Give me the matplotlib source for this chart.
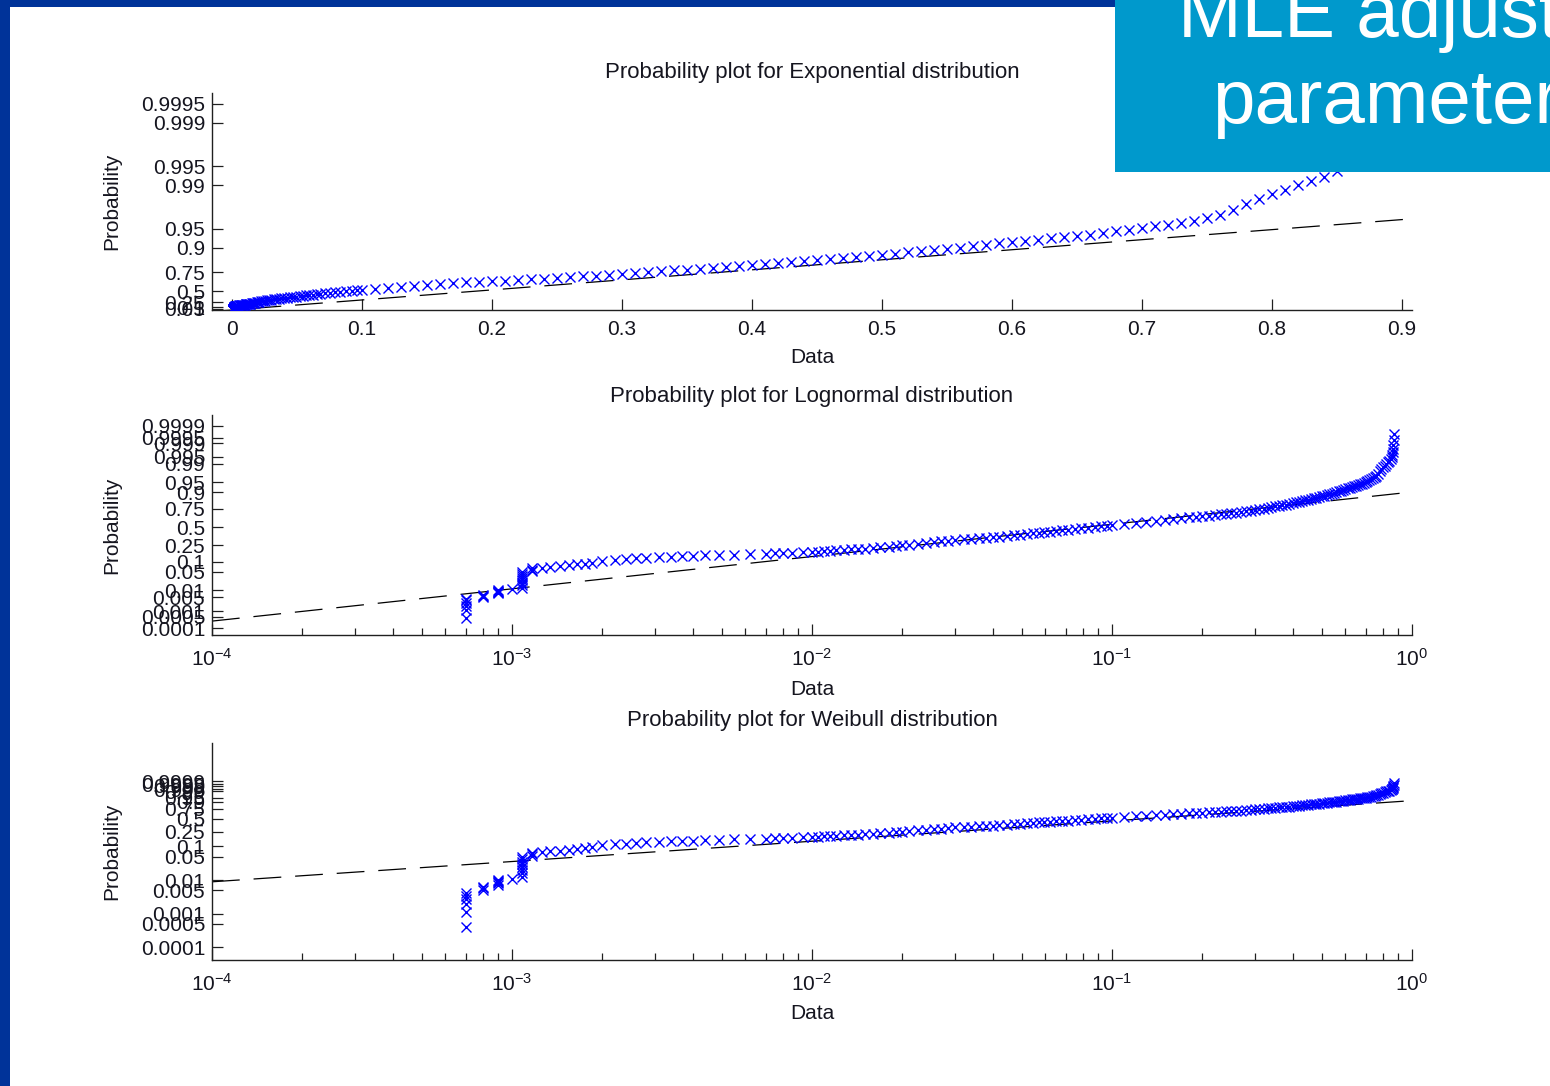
import numpy as np
import matplotlib
matplotlib.use("Agg")
import matplotlib.pyplot as plt
from matplotlib.patches import Rectangle
from matplotlib.ticker import LogLocator, LogFormatterMathtext, NullFormatter

plt.rcParams["font.family"] = ["Liberation Sans", "DejaVu Sans"]
plt.rcParams["mathtext.fontset"] = "custom"
plt.rcParams["mathtext.rm"] = "Liberation Sans"
plt.rcParams["mathtext.default"] = "regular"
plt.rcParams["axes.unicode_minus"] = False
plt.rcParams["lines.scale_dashes"] = False

# sorted sample values and their plotting positions
DATA_X = [
    0.0007, 0.0007, 0.0007, 0.0007, 0.0007, 0.0007,
    0.0008, 0.0008, 0.0008,
    0.0009, 0.0009, 0.0009, 0.0009, 0.0009,
    0.0010,
    0.00108, 0.00108, 0.00108, 0.00108, 0.00108, 0.00108, 0.00108, 0.00108,
    0.00117, 0.00117, 0.00117,
    0.00126, 0.00134, 0.00145, 0.00155, 0.00165, 0.00175, 0.00185,
    0.0020, 0.0022, 0.0024, 0.0026, 0.0028,
    0.0031, 0.0034, 0.0037, 0.0040,
    0.0044, 0.0049, 0.0055, 0.0062,
    0.0070, 0.0075, 0.0080, 0.0086, 0.0093,
    0.010, 0.0105, 0.011, 0.0115, 0.012, 0.0128, 0.0135, 0.0142, 0.015, 0.016,
    0.0168, 0.018, 0.019, 0.020, 0.021, 0.0225, 0.024, 0.0255, 0.027, 0.0285,
    0.030, 0.032, 0.034, 0.036, 0.038, 0.040, 0.042, 0.0445, 0.047, 0.0495,
    0.052, 0.0545, 0.057, 0.0595, 0.062, 0.065, 0.068, 0.0715, 0.075, 0.079,
    0.083, 0.0875, 0.092, 0.096,
    0.10, 0.11, 0.12, 0.13, 0.14, 0.15, 0.16, 0.17, 0.18, 0.19,
    0.20, 0.21, 0.22, 0.23, 0.24, 0.25, 0.26, 0.27, 0.28, 0.29,
    0.30, 0.31, 0.32, 0.33, 0.34, 0.35, 0.36, 0.37, 0.38, 0.39,
    0.40, 0.41, 0.42, 0.43, 0.44, 0.45, 0.46, 0.47, 0.48, 0.49,
    0.50, 0.51, 0.52, 0.53, 0.54, 0.55, 0.56, 0.57, 0.58, 0.59,
    0.60, 0.61, 0.62, 0.63, 0.64, 0.65, 0.66, 0.67, 0.68, 0.69,
    0.70, 0.71, 0.72, 0.73, 0.74, 0.75, 0.76, 0.77, 0.78, 0.79,
    0.80, 0.81, 0.82, 0.83, 0.84, 0.85,
    0.855, 0.86, 0.862, 0.865, 0.867, 0.87, 0.872,
]
DATA_P = [
    0.0004, 0.0011, 0.0019, 0.0027, 0.0035, 0.0042,
    0.0050, 0.0058, 0.0065,
    0.0073, 0.0081, 0.0088, 0.0096, 0.0104,
    0.0112,
    0.0125, 0.016, 0.020, 0.025, 0.030, 0.036, 0.042, 0.048,
    0.053, 0.059, 0.065,
    0.068, 0.071, 0.075, 0.080, 0.085, 0.090, 0.095,
    0.105, 0.112, 0.118, 0.124, 0.128,
    0.132, 0.136, 0.140, 0.144,
    0.148, 0.152, 0.156, 0.160,
    0.164, 0.167, 0.170, 0.173, 0.177,
    0.181, 0.184, 0.188, 0.191, 0.195, 0.200, 0.205, 0.210, 0.215, 0.222,
    0.228, 0.236, 0.245, 0.252, 0.260, 0.270, 0.280, 0.290, 0.300, 0.310,
    0.320, 0.328, 0.335, 0.343, 0.350, 0.355, 0.360, 0.370, 0.380, 0.390,
    0.400, 0.410, 0.420, 0.425, 0.430, 0.440, 0.450, 0.460, 0.470, 0.480,
    0.490, 0.500, 0.510, 0.518,
    0.525, 0.545, 0.560, 0.578, 0.592, 0.605, 0.618, 0.630, 0.640, 0.648,
    0.655, 0.662, 0.670, 0.678, 0.686, 0.694, 0.702, 0.710, 0.718, 0.727,
    0.735, 0.743, 0.750, 0.759, 0.767, 0.775, 0.782, 0.789, 0.795, 0.802,
    0.810, 0.817, 0.823, 0.830, 0.837, 0.844, 0.850, 0.855, 0.860, 0.865,
    0.870, 0.875, 0.880, 0.885, 0.890, 0.895, 0.900, 0.905, 0.910, 0.914,
    0.918, 0.922, 0.925, 0.929, 0.932, 0.935, 0.938, 0.942, 0.945, 0.948,
    0.951, 0.954, 0.957, 0.960, 0.963, 0.966, 0.970, 0.975, 0.980, 0.983,
    0.986, 0.988, 0.990, 0.9915, 0.9925, 0.994,
    0.995, 0.996, 0.997, 0.998, 0.9987, 0.9993, 0.9997,
]

PROB_TICKS = [0.0001, 0.0005, 0.001, 0.005, 0.01, 0.05, 0.1, 0.25, 0.5,
              0.75, 0.9, 0.95, 0.99, 0.995, 0.999, 0.9995, 0.9999]
EXP_TICKS = [0.05, 0.1, 0.25, 0.5, 0.75, 0.9, 0.95, 0.99, 0.995, 0.999, 0.9995]
EXP_XTICKS = [0, 0.1, 0.2, 0.3, 0.4, 0.5, 0.6, 0.7, 0.8, 0.9]

# fitted parameters (reference lines)
EXP_MU = 0.27
LOGN_MU, LOGN_SIGMA = -2.50, 1.94
WBL_SCALE, WBL_SHAPE = 0.23, 0.608

W, H = 1550, 1086
TXT = "#15151f"


def norm_ppf(p):
    # Acklam's rational approximation of the inverse normal cdf
    p = np.asarray(p, float)
    a = [-3.969683028665376e+01, 2.209460984245205e+02, -2.759285104469687e+02,
         1.383577518672690e+02, -3.066479806614716e+01, 2.506628277459239e+00]
    b = [-5.447609879822406e+01, 1.615858368580409e+02, -1.556989798598866e+02,
         6.680131188771972e+01, -1.328068155288572e+01]
    c = [-7.784894002430293e-03, -3.223964580411365e-01, -2.400758277161838e+00,
         -2.549732539343734e+00, 4.374664141464968e+00, 2.938163982698783e+00]
    d = [7.784695709041462e-03, 3.224671290700398e-01, 2.445134137142996e+00,
         3.754408661907416e+00]
    lo = 0.02425
    q = np.sqrt(-2 * np.log(np.minimum(p, 1 - p)))
    tail = (((((c[0]*q + c[1])*q + c[2])*q + c[3])*q + c[4])*q + c[5]) / \
           ((((d[0]*q + d[1])*q + d[2])*q + d[3])*q + 1)
    r = (p - 0.5) ** 2
    mid = (((((a[0]*r + a[1])*r + a[2])*r + a[3])*r + a[4])*r + a[5]) * (p - 0.5) / \
          (((((b[0]*r + b[1])*r + b[2])*r + b[3])*r + b[4])*r + 1)
    return np.where(p < lo, tail, np.where(p > 1 - lo, -tail, mid))


def exp_y(p):
    return -np.log(1 - np.asarray(p, float))


def wbl_y(p):
    return np.log(-np.log(1 - np.asarray(p, float)))


def box(x0, y0, x1, y1):
    # pixel box (top-left origin) -> figure fraction rect
    return [x0 / W, 1 - y1 / H, (x1 - x0) / W, (y1 - y0) / H]


fig = plt.figure(figsize=(W / 100, H / 100), dpi=100)
fig.patch.set_facecolor("white")

panels = [
    dict(rect=box(212, 93, 1412, 310), title="Probability plot for Exponential distribution",
         fwd=exp_y, ticks=EXP_TICKS, ylim=(0, 8.0), log=False, xlim=(-0.0154, 0.9077),
         pad=11, xlab=-0.175),
    dict(rect=box(212, 415, 1412, 635), title="Probability plot for Lognormal distribution",
         fwd=norm_ppf, ticks=PROB_TICKS, ylim=(-3.97, 4.12), log=True, xlim=(1e-4, 1),
         pad=9.5, xlab=-0.205),
    dict(rect=box(212, 743, 1412, 960), title="Probability plot for Weibull distribution",
         fwd=wbl_y, ticks=PROB_TICKS, ylim=(-10.1, 4.87), log=True, xlim=(1e-4, 1),
         pad=12, xlab=-0.205),
]

xs = np.array(DATA_X)
ps = np.array(DATA_P)

for i, cfg in enumerate(panels):
    ax = fig.add_axes(cfg["rect"])
    fwd = cfg["fwd"]
    if cfg["log"]:
        ax.set_xscale("log")
    ax.set_xlim(cfg["xlim"])
    ax.set_ylim(cfg["ylim"])

    # reference line
    lx = np.array(cfg["xlim"])
    if i == 0:
        ly = lx / EXP_MU
    elif i == 1:
        ly = (np.log(lx) - LOGN_MU) / LOGN_SIGMA
    else:
        ly = WBL_SHAPE * (np.log(lx) - np.log(WBL_SCALE))
    ax.plot(lx, ly, color="black", lw=0.9, dashes=(20, 10), zorder=2)

    ax.plot(xs, fwd(ps), linestyle="none", marker="x", color="#0000ff",
            ms=6.5, mew=1.0, zorder=3)

    ax.set_yticks(fwd(np.array(cfg["ticks"])))
    ax.set_yticklabels([f"{t:g}" for t in cfg["ticks"]])
    if cfg["log"]:
        ax.xaxis.set_major_locator(LogLocator(base=10, numticks=10))
        ax.xaxis.set_major_formatter(LogFormatterMathtext())
        ax.xaxis.set_minor_locator(LogLocator(base=10, subs=np.arange(2, 10), numticks=20))
        ax.xaxis.set_minor_formatter(NullFormatter())
    else:
        ax.set_xticks(EXP_XTICKS)
        ax.set_xticklabels([f"{t:g}" for t in EXP_XTICKS])

    for s in ("top", "right"):
        ax.spines[s].set_visible(False)
    for s in ("left", "bottom"):
        ax.spines[s].set_linewidth(1.0)
        ax.spines[s].set_color("#202020")
    ax.tick_params(which="major", direction="in", length=8, width=0.9,
                   labelsize=15, labelcolor=TXT, color="#202020")
    ax.tick_params(axis="x", which="major", pad=9 if cfg["log"] else 7)
    ax.tick_params(axis="y", which="major", pad=5)
    ax.tick_params(which="minor", direction="in", length=5, width=0.9, color="#202020")
    ax.set_facecolor("white")

    ax.set_title(cfg["title"], fontsize=16, color=TXT, pad=cfg["pad"])
    ax.set_xlabel("Data", fontsize=15, color=TXT)
    ax.xaxis.set_label_coords(0.5, cfg["xlab"])
    ax.set_ylabel("Probability", fontsize=15, color=TXT)
    ax.yaxis.set_label_coords(-0.076, 0.5)

# slide frame and heading box
fig.patches.append(Rectangle((0, 0), 10 / W, 1, transform=fig.transFigure,
                             facecolor="#003399", edgecolor="none", zorder=10))
fig.patches.append(Rectangle((0, 1 - 7 / H), 1115 / W, 7 / H, transform=fig.transFigure,
                             facecolor="#003399", edgecolor="none", zorder=10))
fig.patches.append(Rectangle((1115 / W, 1 - 172 / H), 435 / W, 172 / H,
                             transform=fig.transFigure, facecolor="#0099cc",
                             edgecolor="none", zorder=10))
fig.text(1178 / W, 1 - 37 / H, "MLE adjusted", fontsize=55, color="white",
         ha="left", va="baseline", zorder=11)
fig.text(1212 / W, 1 - 123 / H, "parameters", fontsize=55, color="white",
         ha="left", va="baseline", zorder=11)

fig.savefig("out.png", dpi=100)
